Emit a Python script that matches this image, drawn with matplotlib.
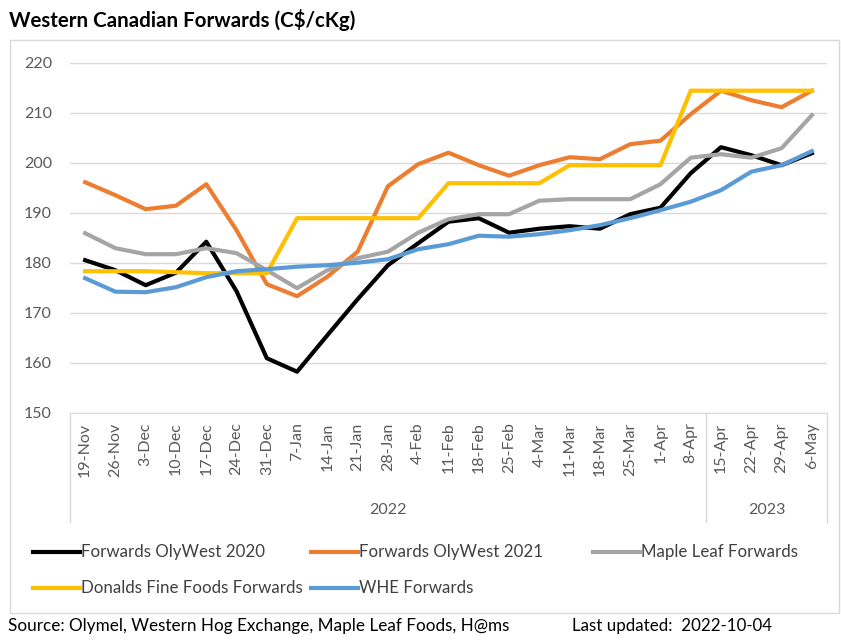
import numpy as np
import matplotlib
matplotlib.use("Agg")
import matplotlib.pyplot as plt
import matplotlib.patches as patches
from matplotlib.lines import Line2D

plt.rcParams['font.family'] = ['Lato', 'DejaVu Sans']

weeks = ['19-Nov', '26-Nov', '3-Dec', '10-Dec', '17-Dec', '24-Dec', '31-Dec',
         '7-Jan', '14-Jan', '21-Jan', '28-Jan', '4-Feb', '11-Feb', '18-Feb',
         '25-Feb', '4-Mar', '11-Mar', '18-Mar', '25-Mar', '1-Apr', '8-Apr',
         '15-Apr', '22-Apr', '29-Apr', '6-May']
years = ['2022', '2023']
year_sizes = [21, 4]

olywest_2020 = [180.5, 178.5, 175.5, 178.0, 184.2, 174.3, 160.9, 158.2, 165.5,
                172.7, 179.5, 183.9, 188.2, 188.9, 186.0, 186.8, 187.3, 186.8,
                189.7, 191.0, 197.9, 203.1, 201.5, 199.5, 201.9]
olywest_2021 = [196.1, 193.5, 190.7, 191.4, 195.7, 186.5, 175.7, 173.3, 177.2,
                182.2, 195.3, 199.7, 202.0, 199.5, 197.4, 199.5, 201.1, 200.7,
                203.7, 204.4, 209.7, 214.4, 212.5, 211.1, 214.4]
maple_leaf = [185.9, 182.9, 181.7, 181.7, 182.9, 181.9, 178.5, 174.9, 178.5,
              180.9, 182.2, 186.0, 188.7, 189.7, 189.7, 192.4, 192.7, 192.7,
              192.7, 195.7, 201.0, 201.7, 201.0, 202.9, 209.5]
donalds = [178.3, 178.3, 178.3, 178.1, 177.9, 177.9, 177.9, 188.9, 188.9,
           188.9, 188.9, 188.9, 195.9, 195.9, 195.9, 195.9, 199.5, 199.5,
           199.5, 199.5, 214.4, 214.4, 214.4, 214.4, 214.4]
whe = [176.9, 174.2, 174.1, 175.1, 177.1, 178.3, 178.7, 179.2, 179.5, 180.0,
       180.7, 182.7, 183.7, 185.4, 185.2, 185.7, 186.5, 187.5, 188.9, 190.5,
       192.2, 194.5, 198.2, 199.5, 202.3]

series = [('Forwards OlyWest 2020', olywest_2020, '#000000'),
          ('Forwards OlyWest 2021', olywest_2021, '#ED7D31'),
          ('Maple Leaf Forwards', maple_leaf, '#A5A5A5'),
          ('Donalds Fine Foods Forwards', donalds, '#FFC000'),
          ('WHE Forwards', whe, '#5B9BD5')]

W, H = 841, 642
fig = plt.figure(figsize=(W / 100, H / 100), dpi=100)

# outer chart border
fig.add_artist(patches.Rectangle((10 / W, 1 - 613 / H), 829 / W, 573 / H,
                                 transform=fig.transFigure, fill=False,
                                 ec='#D9D9D9', lw=1))

ax = fig.add_axes([70 / W, 1 - 412.7 / H, 757 / W, 350 / H])
x = np.arange(len(weeks))
for name, vals, col in series:
    ax.plot(x, vals, color=col, lw=3.0, solid_joinstyle='round')

ax.set_xlim(-0.5, len(weeks) - 0.5)
ax.set_ylim(150, 220)
ax.set_yticks(np.arange(150, 221, 10))
ax.yaxis.grid(True, color='#D9D9D9', lw=1)
ax.set_axisbelow(True)
for s in ['top', 'right', 'left']:
    ax.spines[s].set_visible(False)
ax.spines['bottom'].set_color('#D9D9D9')
ax.tick_params(axis='y', length=0, pad=13, labelsize=11.5, labelcolor='#595959')
ax.set_xticks(x)
ax.set_xticklabels(weeks, rotation=90, va='top', ha='center')
ax.tick_params(axis='x', length=0, pad=7, labelsize=11.5, labelcolor='#595959')

# year groups under the week labels
sep_y = (412.7 - 522) / 350
lab_y = (412.7 - 510) / 350
start = -0.5
bounds = [start]
for yr, n in zip(years, year_sizes):
    end = start + n
    ax.text((start + end) / 2, lab_y, yr, transform=ax.get_xaxis_transform(),
            ha='center', va='center', fontsize=11.5, color='#595959')
    bounds.append(end)
    start = end
for b in bounds:
    ax.add_line(Line2D([b, b], [0, sep_y], transform=ax.get_xaxis_transform(),
                       color='#D9D9D9', lw=1, clip_on=False))

# legend, three equal columns filled row by row
col_x = [33, 311, 593]
row_y = [552, 588]
for i, (name, vals, col) in enumerate(series):
    cx = col_x[i % 3]
    cy = 1 - row_y[i // 3] / H
    fig.add_artist(Line2D([cx / W, (cx + 47) / W], [cy, cy], color=col, lw=3,
                          transform=fig.transFigure))
    fig.text((cx + 48) / W, cy, name, ha='left', va='center', fontsize=12.2,
             color='#404040')

fig.text(9 / W, 1 - 20 / H, 'Western Canadian Forwards (C$/cKg)', ha='left',
         va='center', fontsize=14.8, fontweight='bold', color='#000000')
fig.text(8 / W, 1 - 626 / H, 'Source: Olymel, Western Hog Exchange, Maple Leaf Foods, H@ms',
         ha='left', va='center', fontsize=12.3, color='#000000')
fig.text(572 / W, 1 - 626 / H, 'Last updated:  2022-10-04', ha='left',
         va='center', fontsize=12.2, color='#000000')

fig.savefig('out.png', dpi=100)
